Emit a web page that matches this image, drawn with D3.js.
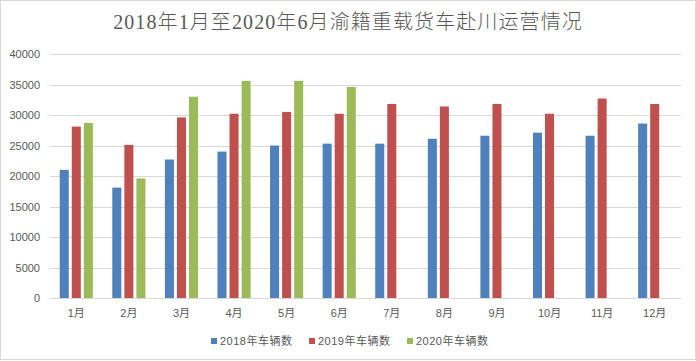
<!DOCTYPE html>
<html>
<meta charset="utf-8">
<style>
  body { margin: 0; background: #fff; }
  text { font-family: "Liberation Sans", "Noto Sans CJK SC", sans-serif; fill: #595959; }
</style>
<svg width="696" height="361"></svg>
<script src="https://d3js.org/d3.v7.min.js"></script>
<script>
  // 月份
  var months = ["1月", "2月", "3月", "4月", "5月", "6月", "7月", "8月", "9月", "10月", "11月", "12月"];
  // 系列名称
  var seriesNames = ["2018年车辆数", "2019年车辆数", "2020年车辆数"];
  // 各年数据（2020年只有前6个月）
  var v2018 = [21000, 18100, 22700, 24000, 25000, 25300, 25300, 26100, 26600, 27100, 26600, 28600];
  var v2019 = [28100, 25100, 29600, 30200, 30500, 30200, 31800, 31400, 31800, 30200, 32700, 31800];
  var v2020 = [28700, 19600, 33000, 35600, 35600, 34600];
  var yTicks = [0, 5000, 10000, 15000, 20000, 25000, 30000, 35000, 40000];
  var colors = ["#4f81bd", "#c0504d", "#9bbb59"];

  var allSeries = [v2018, v2019, v2020];

  var svg = d3.select("svg");

  // 外框
  svg.append("rect")
    .attr("x", 0.5).attr("y", 0.5)
    .attr("width", 695).attr("height", 359)
    .attr("fill", "#fff")
    .attr("stroke", "#d9d9d9");

  // 绘图区范围（注意不能用 top 作变量名，会和 window.top 冲突）
  var plotLeft = 50, plotRight = 681, plotTop = 54, plotBottom = 298;

  var x0 = d3.scaleBand()
    .domain(months)
    .range([plotLeft, plotRight])
    .paddingInner(0.37)
    .paddingOuter(0.185);

  var x1 = d3.scaleBand()
    .domain(d3.range(3))
    .range([0, x0.bandwidth()])
    .paddingInner(0.25);

  var y = d3.scaleLinear()
    .domain([0, 40000])
    .range([plotBottom, plotTop]);

  // 网格线
  svg.append("g")
    .selectAll("line")
    .data(yTicks)
    .enter().append("line")
    .attr("x1", plotLeft).attr("x2", plotRight)
    .attr("y1", function (d) { return Math.round(y(d)) + 0.5; })
    .attr("y2", function (d) { return Math.round(y(d)) + 0.5; })
    .attr("stroke", "#d9d9d9")
    .attr("stroke-width", 1);

  // y轴标签
  svg.append("g")
    .selectAll("text")
    .data(yTicks)
    .enter().append("text")
    .attr("x", 40)
    .attr("y", function (d) { return y(d) + 4; })
    .attr("text-anchor", "end")
    .attr("font-size", 11)
    .text(function (d) { return d; });

  // 柱子
  var groups = svg.append("g")
    .selectAll("g")
    .data(allSeries)
    .enter().append("g")
    .attr("fill", function (d, i) { return colors[i]; });

  groups.each(function (vals, si) {
    d3.select(this).selectAll("rect")
      .data(vals)
      .enter().append("rect")
      .attr("x", function (d, i) { return x0(months[i]) + x1(si); })
      .attr("y", function (d) { return y(d); })
      .attr("width", x1.bandwidth())
      .attr("height", function (d) { return y(0) - y(d); });
  });

  // x轴标签
  svg.append("g")
    .selectAll("text")
    .data(months)
    .enter().append("text")
    .attr("x", function (d) { return x0(d) + x0.bandwidth() / 2; })
    .attr("y", 317)
    .attr("text-anchor", "middle")
    .attr("font-size", 11)
    .text(function (d) { return d; });

  // 标题
  svg.append("text")
    .attr("x", 348)
    .attr("y", 29)
    .attr("text-anchor", "middle")
    .attr("font-size", 20)
    .attr("letter-spacing", 1.1)
    .style("font-family", "'Liberation Serif', 'Noto Sans CJK SC', serif")
    .style("font-weight", 300)
    .text("2018年1月至2020年6月渝籍重载货车赴川运营情况");

  // 图例
  var legendX = [211, 309, 407];
  var legend = svg.append("g")
    .selectAll("g")
    .data(seriesNames)
    .enter().append("g")
    .attr("transform", function (d, i) { return "translate(" + legendX[i] + ",338)"; });

  legend.append("rect")
    .attr("width", 6).attr("height", 6)
    .attr("fill", function (d, i) { return colors[i]; });

  legend.append("text")
    .attr("x", 9)
    .attr("y", 7)
    .attr("font-size", 11)
    .attr("letter-spacing", 0.5)
    .text(function (d) { return d; });
</script>
</html>
